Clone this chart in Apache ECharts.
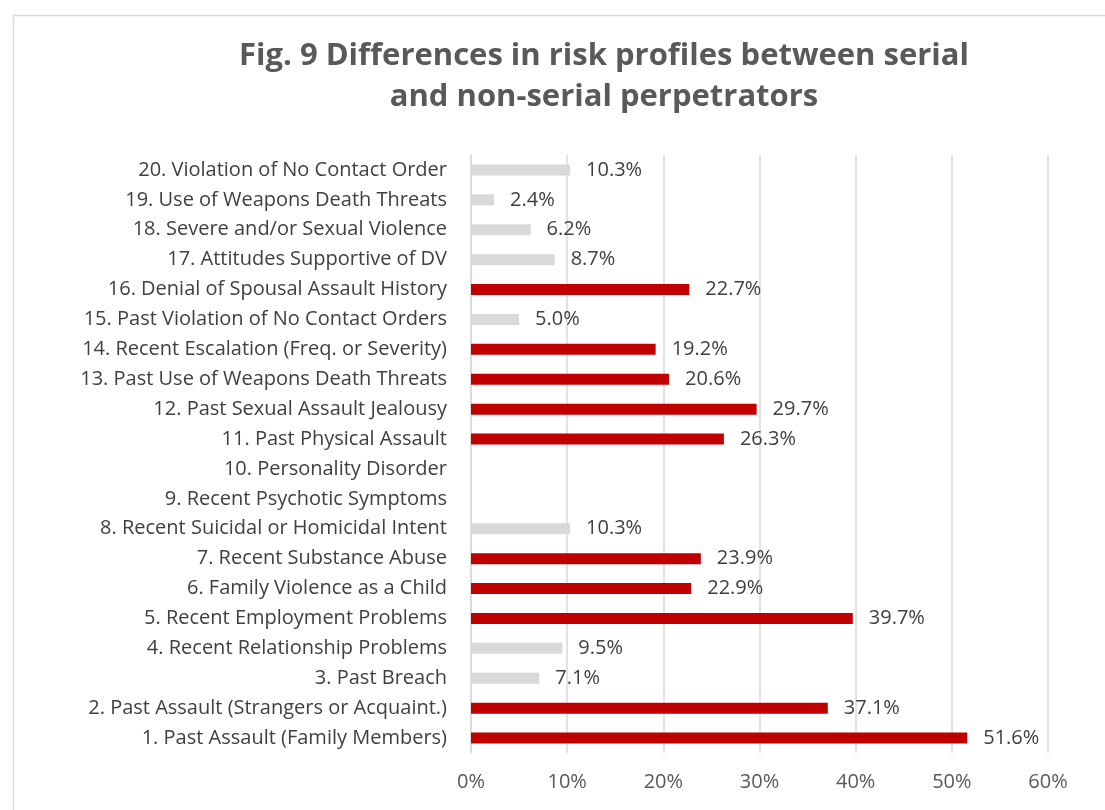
<!DOCTYPE html>
<html style="height: 100%">
<head>
  <meta charset="utf-8">
  <title>Fig. 9 Differences in risk profiles</title>
  <script src="https://cdn.jsdelivr.net/npm/echarts@6/dist/echarts.min.js"></script>
</head>
<body style="margin: 0; height: 100%; background: #fff">
  <div id="main" style="width: 1105px; height: 810px"></div>

  <script>
    // categories from bottom (1) to top (20)
    const categories = [
      '1. Past Assault (Family Members)',
      '2. Past Assault (Strangers or Acquaint.)',
      '3. Past Breach',
      '4. Recent Relationship Problems',
      '5. Recent Employment Problems',
      '6. Family Violence as a Child',
      '7. Recent Substance Abuse',
      '8. Recent Suicidal or Homicidal Intent',
      '9. Recent Psychotic Symptoms',
      '10. Personality Disorder',
      '11. Past Physical Assault',
      '12. Past Sexual Assault Jealousy',
      '13. Past Use of Weapons Death Threats',
      '14. Recent Escalation (Freq. or Severity)',
      '15. Past Violation of No Contact Orders',
      '16. Denial of Spousal Assault History',
      '17. Attitudes Supportive of DV',
      '18. Severe and/or Sexual Violence',
      '19. Use of Weapons Death Threats',
      '20. Violation of No Contact Order'
    ];
    // red bars
    const significant = [51.6, 37.1, null, null, 39.7, 22.9, 23.9, null, null, null,
                         26.3, 29.7, 20.6, 19.2, null, 22.7, null, null, null, null];
    // grey bars
    const other = [null, null, 7.1, 9.5, null, null, null, 10.3, null, null,
                   null, null, null, null, 5.0, null, 8.7, 6.2, 2.4, 10.3];
    const xTicks = [0, 10, 20, 30, 40, 50, 60];

    const font = '"Open Sans", sans-serif';
    const chart = echarts.init(document.getElementById('main'));

    const barLabel = {
      show: true,
      position: 'right',
      distance: 16,
      fontFamily: font,
      fontSize: 20,
      color: '#404040',
      formatter: p => p.value == null ? '' : p.value.toFixed(1) + '%'
    };

    chart.setOption({
      animation: false,
      graphic: [{
        type: 'rect',
        left: 11, top: 13,
        shape: { width: 1200, height: 900 },
        style: { fill: 'none', stroke: '#d9d9d9', lineWidth: 1.5 },
        silent: true
      }],
      title: {
        text: 'Fig. 9 Differences in risk profiles between serial\nand non-serial perpetrators',
        left: 599,
        top: 31,
        textAlign: 'center',
        textStyle: {
          fontFamily: font,
          fontSize: 31,
          fontWeight: 'bold',
          color: '#595959',
          lineHeight: 41
        }
      },
      grid: { left: 471, right: 57, top: 155, bottom: 57, containLabel: false },
      xAxis: {
        type: 'value',
        min: xTicks[0],
        max: xTicks[xTicks.length - 1],
        interval: 10,
        axisLine: { show: false },
        axisTick: { show: false },
        splitLine: { lineStyle: { color: '#d9d9d9', width: 1.5 } },
        axisLabel: {
          formatter: '{value}%',
          margin: 19,
          fontFamily: font,
          fontSize: 20,
          color: '#595959'
        }
      },
      yAxis: {
        type: 'category',
        data: categories,
        axisLine: { show: true, lineStyle: { color: '#d9d9d9', width: 1.5 } },
        axisTick: { show: false },
        axisLabel: {
          margin: 24,
          fontFamily: font,
          fontSize: 20,
          color: '#404040'
        }
      },
      series: [{
        name: 'significant',
        type: 'bar',
        stack: 'all',
        data: significant,
        barWidth: 11,
        itemStyle: { color: '#c00000' },
        label: barLabel
      }, {
        name: 'other',
        type: 'bar',
        stack: 'all',
        data: other,
        barWidth: 11,
        itemStyle: { color: '#d9d9d9' },
        label: barLabel
      }]
    });
  </script>
</body>
</html>
